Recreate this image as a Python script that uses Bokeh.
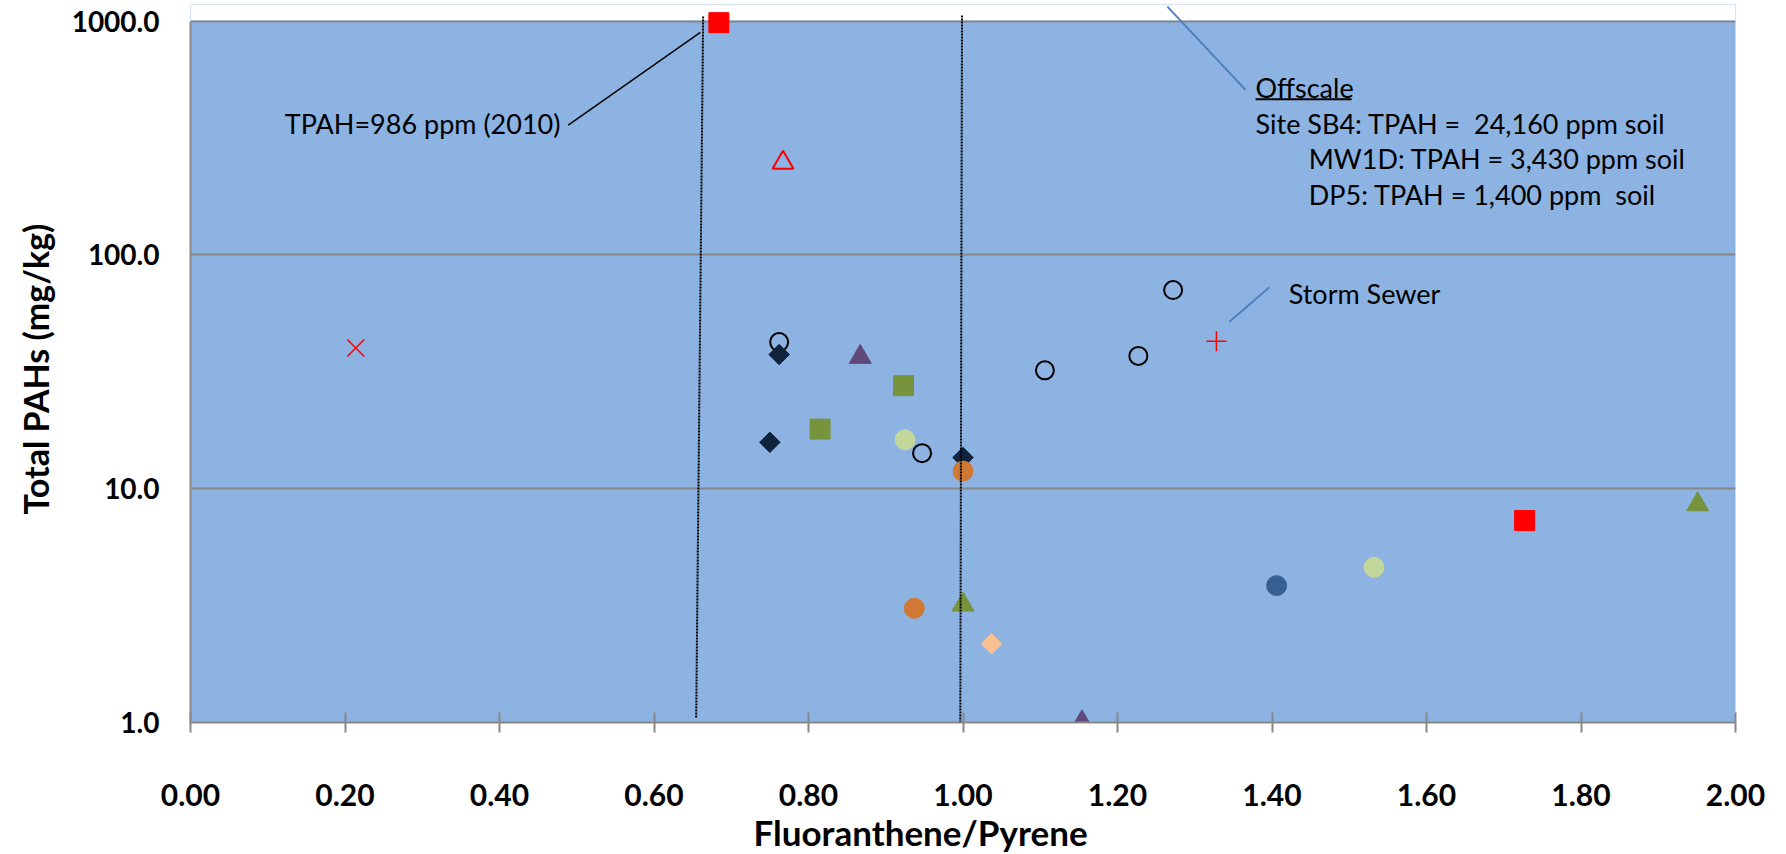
import numpy as np
from bokeh.plotting import figure
from bokeh.models import Range1d, FixedTicker, PrintfTickFormatter, BoxAnnotation, Title
from bokeh.core.properties import value
from bokeh.embed import file_html
from bokeh.resources import INLINE

# ---------------- data (Fluoranthene/Pyrene ratio, Total PAHs mg/kg) ----------------
red_square_x = [0.684, 1.727]
red_square_y = [986, 7.31]
red_open_triangle_x = [0.767]
red_open_triangle_y = [248]
red_x_x = [0.214]
red_x_y = [40.0]
red_plus_x = [1.328]
red_plus_y = [42.7]
open_circle_x = [0.762, 0.947, 1.106, 1.227, 1.272]
open_circle_y = [42.4, 14.2, 32.1, 37.0, 70.8]
navy_diamond_x = [0.762, 0.750, 1.000]
navy_diamond_y = [37.5, 15.8, 13.6]
purple_triangle_x = [0.867, 1.154]
purple_triangle_y = [36.6, 1.0]
olive_square_x = [0.923, 0.815]
olive_square_y = [27.6, 18.0]
light_green_circle_x = [0.925, 1.532]
light_green_circle_y = [16.2, 4.61]
orange_circle_x = [1.000, 0.937]
orange_circle_y = [11.9, 3.08]
olive_triangle_x = [1.000, 1.951]
olive_triangle_y = [3.19, 8.57]
peach_diamond_x = [1.037]
peach_diamond_y = [2.17]
blue_circle_x = [1.406]
blue_circle_y = [3.85]

x_ticks = [0.0, 0.2, 0.4, 0.6, 0.8, 1.0, 1.2, 1.4, 1.6, 1.8, 2.0]
y_ticks = [1, 10, 100, 1000]

FONT = "Lato"
GRAY = "#888888"

p = figure(width=1786, height=854,
           x_range=Range1d(0, 2), y_range=Range1d(1, 1179), y_axis_type="log",
           output_backend="svg", toolbar_location=None,
           min_border_left=189, min_border_right=51, min_border_top=4, min_border_bottom=132)
p.background_fill_color = "#8DB3E2"
p.border_fill_color = "white"
p.outline_line_color = None

# white area above the 1000 line (plot area ends there)
p.add_layout(BoxAnnotation(bottom=1010, fill_color="white", fill_alpha=1.0,
                           line_color=None, level="underlay"))

# grid
p.xgrid.grid_line_color = None
p.ygrid.ticker = FixedTicker(ticks=[10, 100, 1000])
p.ygrid.grid_line_color = GRAY
p.ygrid.grid_line_width = 2

# x axis
xa = p.xaxis[0]
xa.ticker = FixedTicker(ticks=x_ticks)
xa.formatter = PrintfTickFormatter(format="%.2f")
xa.axis_line_color = GRAY
xa.axis_line_width = 2
xa.major_tick_line_color = GRAY
xa.major_tick_line_width = 2
xa.major_tick_in = 10
xa.major_tick_out = 10
xa.minor_tick_line_color = None
xa.minor_tick_out = 0
xa.major_label_standoff = 51
xa.major_label_text_font = FONT
xa.major_label_text_font_style = "bold"
xa.major_label_text_font_size = "30px"
xa.major_label_text_color = "black"

# y axis
ya = p.yaxis[0]
ya.ticker = FixedTicker(ticks=y_ticks)
ya.formatter = PrintfTickFormatter(format="%.1f")
ya.bounds = (1, 1000)
ya.axis_line_color = GRAY
ya.axis_line_width = 2
ya.major_tick_line_color = None
ya.major_tick_in = 0
ya.major_tick_out = 0
ya.minor_tick_line_color = None
ya.minor_tick_in = 0
ya.minor_tick_out = 0
ya.major_label_standoff = 31
ya.major_label_text_font = FONT
ya.major_label_text_font_style = "bold"
ya.major_label_text_font_size = "28px"
ya.major_label_text_color = "black"

# axis titles as positioned titles (the originals are not centred on the plot area)
p.add_layout(Title(text="Total PAHs (mg/kg)", align="left", offset=208,
                   text_font=FONT, text_font_style="bold", text_font_size="34px",
                   text_color="black", standoff=25), "left")
p.add_layout(Title(text="Fluoranthene/Pyrene", align="left", offset=563,
                   text_font=FONT, text_font_style="bold", text_font_size="35px",
                   text_color="black", standoff=0), "below")

# ---------------- markers ----------------
p.scatter(red_x_x, red_x_y, marker="x", size=24, line_color="#FF0000", line_width=1.5)
p.scatter(red_open_triangle_x, red_open_triangle_y, marker="triangle", size=21,
          fill_color=None, line_color="#FF0000", line_width=2)
p.scatter(red_square_x, red_square_y, marker="square", size=20,
          fill_color="#FF0000", line_color="#FF0000")
p.scatter(purple_triangle_x, purple_triangle_y, marker="triangle", size=22,
          fill_color="#604A7B", line_color="#604A7B")
p.scatter(olive_square_x, olive_square_y, marker="square", size=20,
          fill_color="#77933C", line_color="#77933C")
p.scatter(light_green_circle_x, light_green_circle_y, marker="circle", size=20,
          fill_color="#C4D79B", line_color="#C4D79B")
p.scatter(open_circle_x, open_circle_y, marker="circle", size=18,
          fill_color=None, line_color="black", line_width=2)
p.scatter(navy_diamond_x, navy_diamond_y, marker="square", angle=np.pi / 4, size=14.5,
          fill_color="#10243E", line_color="#10243E")
p.scatter(orange_circle_x, orange_circle_y, marker="circle", size=20,
          fill_color="#D07834", line_color="#D07834")
p.scatter(olive_triangle_x, olive_triangle_y, marker="triangle", size=22,
          fill_color="#77933C", line_color="#77933C")
p.scatter(peach_diamond_x, peach_diamond_y, marker="square", angle=np.pi / 4, size=14.5,
          fill_color="#FAC090", line_color="#FAC090")
p.scatter(blue_circle_x, blue_circle_y, marker="circle", size=20,
          fill_color="#376092", line_color="#376092")
p.scatter(red_plus_x, red_plus_y, marker="cross", size=20, line_color="#FF0000", line_width=1.5)

# ---------------- reference lines and callouts ----------------
p.segment(x0=[0.6636, 0.9987], y0=[1047, 1057], x1=[0.6546, 0.9965], y1=[1.04, 0.977],
          line_color="black", line_width=2, line_dash="2 1")
p.segment(x0=[0.489], y0=[359], x1=[0.660], y1=[895], line_color="black", line_width=1.5)
p.segment(x0=[1.2646, 1.3449], y0=[1155, 51.8], x1=[1.3656, 1.3966], y1=[509, 72.7],
          line_color="#4F81BD", line_width=2)
# underline of "Offscale"
p.segment(x0=[1.3787], y0=[464], x1=[1.503], y1=[464], line_color="black", line_width=2)

p.text(x=[0.122, 1.3787, 1.3787, 1.4476, 1.4476, 1.4216],
       y=[366, 521, 366, 259, 182, 68.1],
       text=["TPAH=986 ppm (2010)", "Offscale", "Site SB4: TPAH =\u00a0 24,160 ppm soil",
             "MW1D: TPAH = 3,430 ppm soil", "DP5: TPAH = 1,400 ppm\u00a0 soil", "Storm Sewer"],
       text_font=value(FONT), text_font_size="27px", text_color="black",
       text_align="left", text_baseline="middle")

open("out.html", "w").write(file_html(p, INLINE))
